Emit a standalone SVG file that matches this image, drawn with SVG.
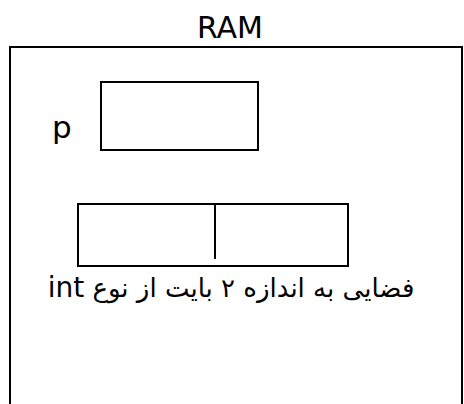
<svg xmlns="http://www.w3.org/2000/svg" width="464" height="404" viewBox="0 0 464 404">
<style>
.box{fill:#fff;stroke:#000;stroke-width:2}
.t{font-family:"DejaVu Sans","Noto Sans",sans-serif;fill:#000}
</style>
<rect width="464" height="404" fill="#fff"/>
<g id="title"><text class="t" x="230" y="38" font-size="30" text-anchor="middle">RAM</text></g>
<g id="ram"><rect class="box" x="10" y="47" width="452" height="370"/></g>
<g id="p">
<text class="t" x="52" y="138" font-size="31">p</text>
<rect class="box" x="101" y="82" width="157" height="68"/>
</g>
<g id="intbox">
<rect class="box" x="78" y="204" width="270" height="62"/>
<line x1="215" y1="204" x2="215" y2="259" stroke="#000" stroke-width="2"/>
</g>
<g id="label"><text class="t" x="231" y="297" font-size="26" text-anchor="middle" direction="rtl">فضایی به اندازه ۲ بایت از نوع <tspan font-size="28">int</tspan></text></g>
<g id="connectors"></g>
</svg>
